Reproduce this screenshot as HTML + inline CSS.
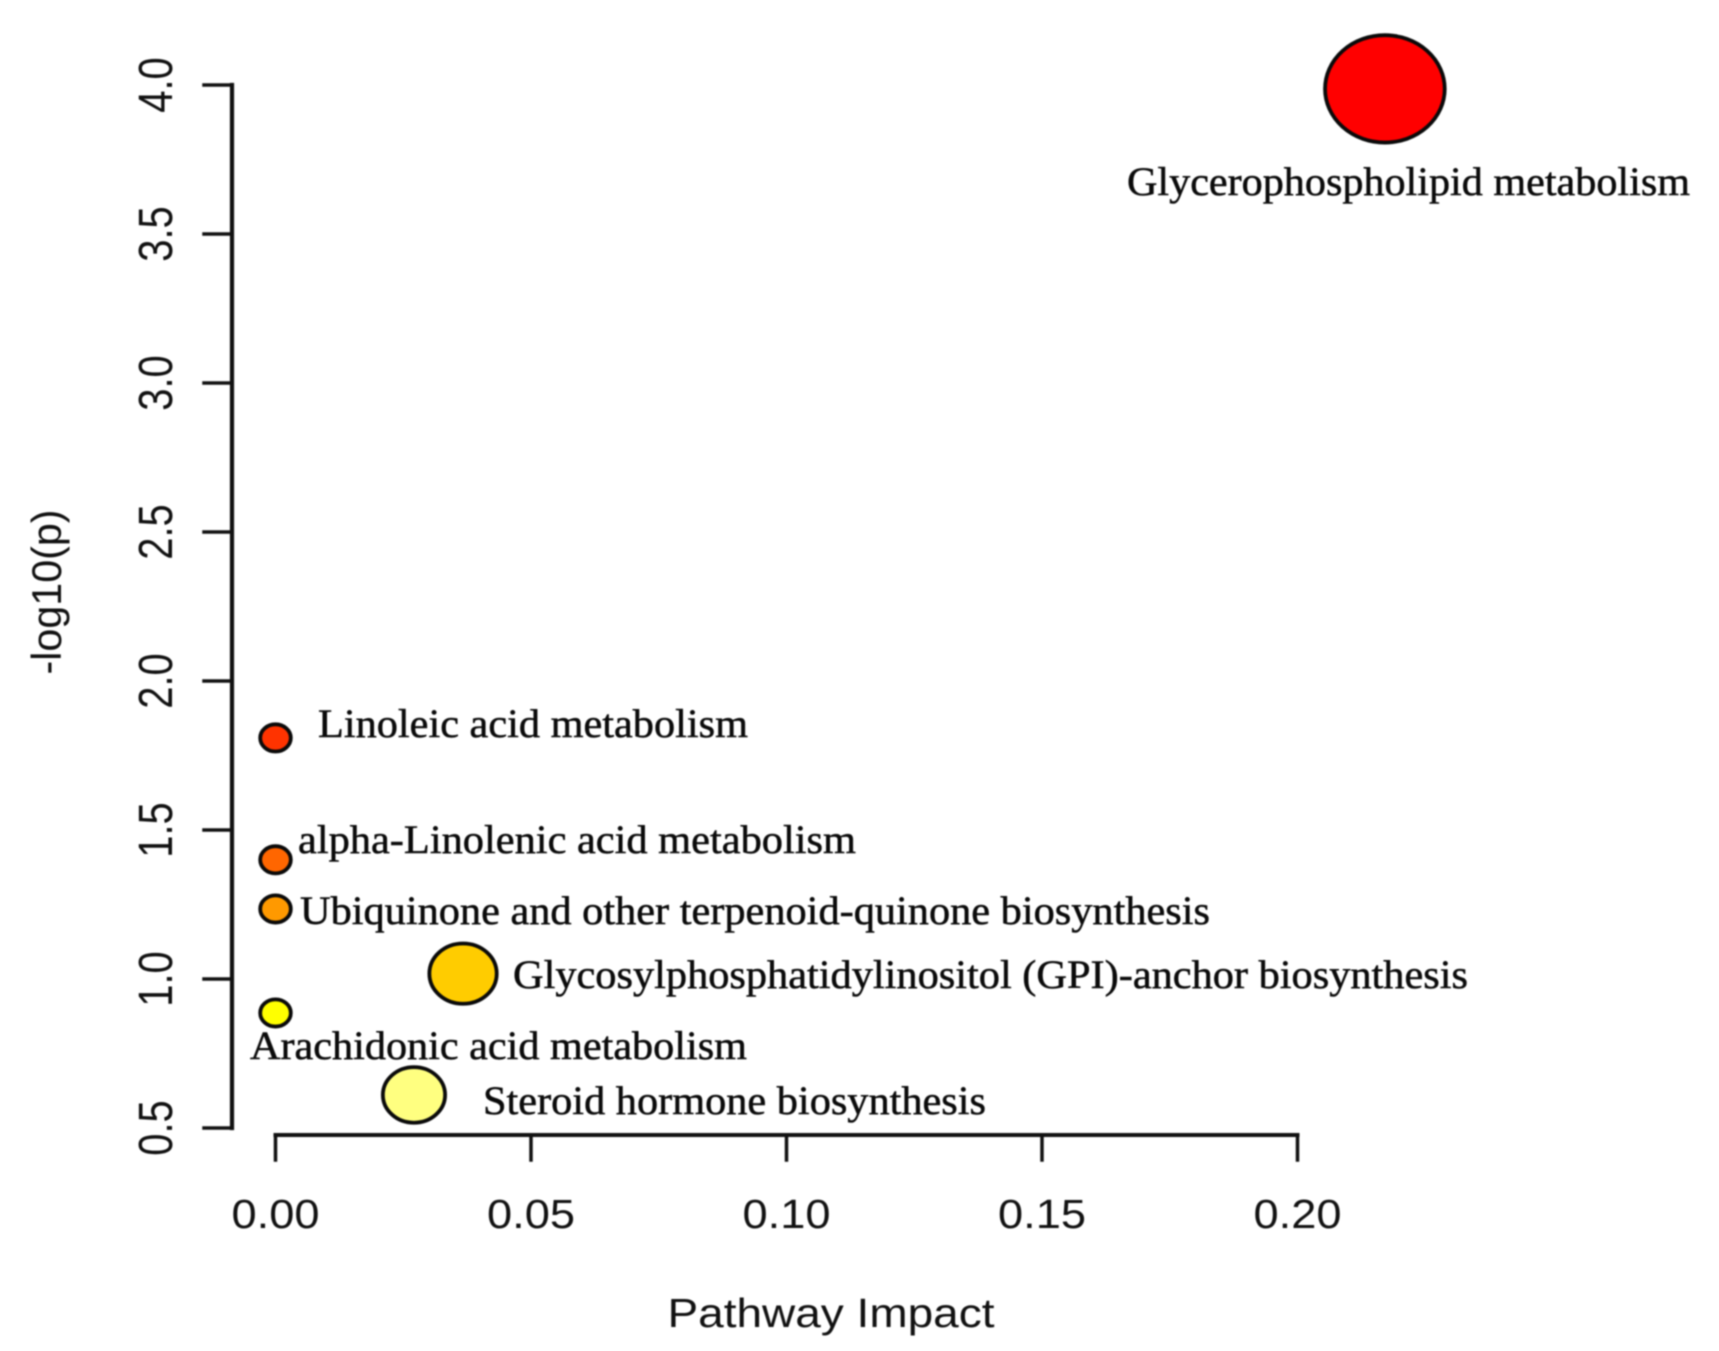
<!DOCTYPE html>
<html lang="en">
<head>
<meta charset="utf-8">
<title>Pathway Impact Bubble Chart</title>
<style>
  html, body { margin: 0; padding: 0; background: #fff; width: 1719px; height: 1351px; overflow: hidden; }
  svg { display: block; filter: blur(0.7px); }
  .sans { font-family: "Liberation Sans", Arial, sans-serif; fill: #111; }
  .lab { font-family: "Liberation Serif", "Times New Roman", serif; font-size: 40px; fill: #0a0a0a; stroke: #0a0a0a; stroke-width: 0.5px; }
</style>
</head>
<body>
<svg id="chart" xmlns="http://www.w3.org/2000/svg" width="1719" height="1351" viewBox="0 0 1719 1351">
  <rect width="1719" height="1351" fill="#ffffff"/>
  <g id="axes"></g>
  <g id="marks"></g>
  <g>
    <text class="lab" x="1127" y="195" textLength="563" lengthAdjust="spacingAndGlyphs">Glycerophospholipid metabolism</text>
    <text class="lab" x="318" y="737" textLength="430" lengthAdjust="spacingAndGlyphs">Linoleic acid metabolism</text>
    <text class="lab" x="298" y="853" textLength="558" lengthAdjust="spacingAndGlyphs">alpha-Linolenic acid metabolism</text>
    <text class="lab" x="300" y="924" textLength="910" lengthAdjust="spacingAndGlyphs">Ubiquinone and other terpenoid-quinone biosynthesis</text>
    <text class="lab" x="513" y="988" textLength="955" lengthAdjust="spacingAndGlyphs">Glycosylphosphatidylinositol (GPI)-anchor biosynthesis</text>
    <text class="lab" x="250" y="1059" textLength="497" lengthAdjust="spacingAndGlyphs">Arachidonic acid metabolism</text>
    <text class="lab" x="483" y="1114" textLength="503" lengthAdjust="spacingAndGlyphs">Steroid hormone biosynthesis</text>
  </g>
  <text class="sans" x="831" y="1327" font-size="41" text-anchor="middle" textLength="327" lengthAdjust="spacingAndGlyphs">Pathway Impact</text>
  <text class="sans" transform="translate(61,592) rotate(-90) scale(1,1.15)" font-size="36" text-anchor="middle" textLength="165" lengthAdjust="spacingAndGlyphs">-log10(p)</text>
</svg>
<script>
const pathways = ['Glycerophospholipid', 'Linoleic acid', 'alpha-Linolenic acid', 'Ubiquinone', 'GPI-anchor', 'Arachidonic acid', 'Steroid hormone'];
const impactValues = [0.2171, 0, 0, 0, 0.0367, 0, 0.0271];
const logPValues = [3.987, 1.809, 1.40, 1.235, 1.018, 0.886, 0.611];
const bubbleSizes = [3.62, 1.0, 1.0, 1.0, 2.08, 1.0, 1.93];
const bubbleColors = ['#ff0000', '#ff3300', '#ff6600', '#ff9900', '#ffcc00', '#ffff00', '#ffff80'];
const xTicks = [0, 0.05, 0.10, 0.15, 0.20];
const xTickLabels = ['0.00', '0.05', '0.10', '0.15', '0.20'];
const yTicks = [0.5, 1.0, 1.5, 2.0, 2.5, 3.0, 3.5, 4.0];
const yTickLabels = ['0.5', '1.0', '1.5', '2.0', '2.5', '3.0', '3.5', '4.0'];

const NS = 'http://www.w3.org/2000/svg';
function xScale(v) { return 275.5 + v * 5110; }
function yScale(v) { return 85 + (4 - v) * 298; }
function rxScale(s) { return s * 17; }
function ryScale(s) { return s * 15.3; }

const axes = document.getElementById('axes');
const marks = document.getElementById('marks');
function addLine(x1, y1, x2, y2, w) {
  const l = document.createElementNS(NS, 'line');
  l.setAttribute('x1', x1);
  l.setAttribute('y1', y1);
  l.setAttribute('x2', x2);
  l.setAttribute('y2', y2);
  l.setAttribute('stroke', '#111111');
  l.setAttribute('stroke-width', w);
  l.setAttribute('stroke-linecap', 'square');
  axes.appendChild(l);
  return l;
}

const X_AXIS_Y = 1135;
const Y_AXIS_X = 232;

const xLine = addLine(xScale(xTicks[0]), X_AXIS_Y, xScale(xTicks[xTicks.length - 1]), X_AXIS_Y, 4);


xTicks.forEach(function (t, i) {
  const tick = addLine(xScale(t), X_AXIS_Y, xScale(t), 1160, 3.5);
  
  
  const txt = document.createElementNS(NS, 'text');
  
  
  txt.setAttribute('class', 'sans');
  txt.setAttribute('x', xScale(t));
  txt.setAttribute('y', 1228);
  txt.setAttribute('font-size', '41');
  txt.setAttribute('text-anchor', 'middle');
  txt.setAttribute('textLength', '88');
  txt.setAttribute('lengthAdjust', 'spacingAndGlyphs');
  txt.textContent = xTickLabels[i];
  axes.appendChild(txt);
});

const yLine = addLine(Y_AXIS_X, yScale(yTicks[0]), Y_AXIS_X, yScale(yTicks[yTicks.length - 1]), 4.2);


yTicks.forEach(function (t, i) {
  const tick = addLine(204, yScale(t), Y_AXIS_X, yScale(t), 3.5);
  
  
  const txt = document.createElementNS(NS, 'text');
  
  
  txt.setAttribute('class', 'sans');
  txt.setAttribute('transform', 'translate(172,' + yScale(t) + ') rotate(-90) scale(1,1.2)');
  txt.setAttribute('font-size', '40');
  txt.setAttribute('text-anchor', 'middle');
  txt.textContent = yTickLabels[i];
  axes.appendChild(txt);
});

pathways.forEach(function (name, i) {
  const e = document.createElementNS(NS, 'ellipse');
  
  
  e.setAttribute('cx', xScale(impactValues[i]));
  e.setAttribute('cy', yScale(logPValues[i]));
  e.setAttribute('rx', rxScale(bubbleSizes[i]) - 1.7);
  e.setAttribute('ry', ryScale(bubbleSizes[i]) - 1.7);
  e.setAttribute('fill', bubbleColors[i]);
  e.setAttribute('stroke', '#0a0a0a');
  e.setAttribute('stroke-width', '3.8');
  marks.appendChild(e);
});
</script>
</body>
</html>
